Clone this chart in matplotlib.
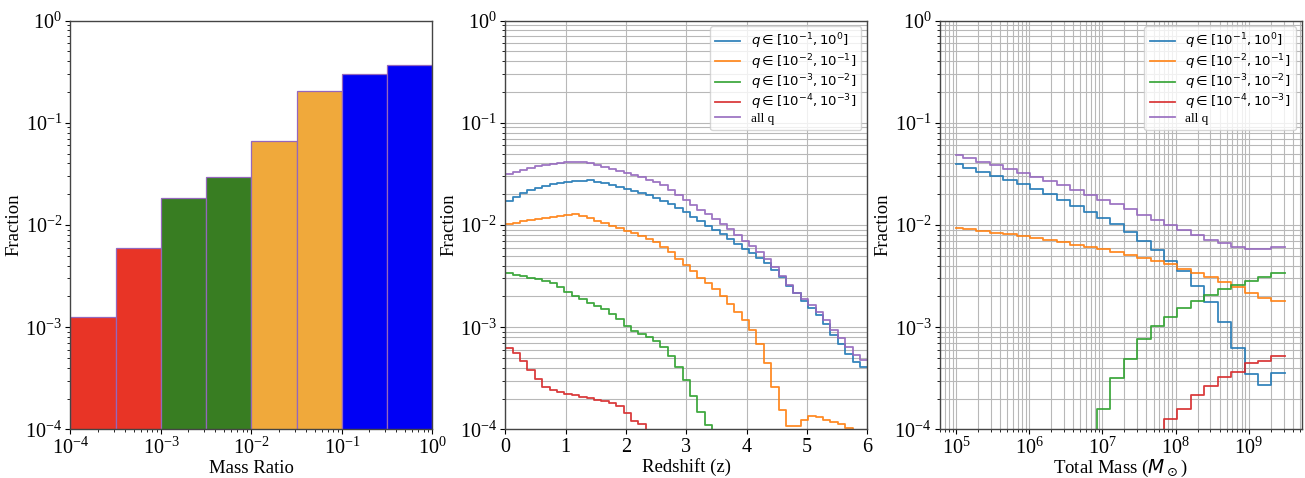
import numpy as np
import matplotlib
matplotlib.use("Agg")
import matplotlib.pyplot as plt

# ---- mass ratio histogram (half-decade bins) ----
q_edges = [1e-4, 10**-3.5, 1e-3, 10**-2.5, 1e-2, 10**-1.5, 1e-1, 10**-0.5, 1e0]
q_frac = [0.00125, 0.0059, 0.0184, 0.0292, 0.0663, 0.206, 0.302, 0.370]
q_colors = ["#e83426", "#e83426", "#387d22", "#387d22",
            "#f0a93b", "#f0a93b", "#0000f5", "#0000f5"]

# ---- redshift distribution, 49 bins over 0 < z < 6 ----
z_edges = np.linspace(0, 6, 50)
z_q1 = [0.0172, 0.0187, 0.0204, 0.0220, 0.0232, 0.0241, 0.0250, 0.0258, 0.0264, 0.0268,
        0.0271, 0.0273, 0.0265, 0.0256, 0.0246, 0.0234, 0.0224, 0.0216, 0.0207, 0.0197,
        0.0185, 0.0172, 0.0162, 0.0148, 0.0133, 0.0121, 0.0109, 0.00985, 0.00893, 0.00811,
        0.00724, 0.00647, 0.00582, 0.00528, 0.00479, 0.00422, 0.00363, 0.00308, 0.00255, 0.00215,
        0.00182, 0.00155, 0.00132, 0.00107, 0.00084, 0.00068, 0.000547, 0.000454, 0.000405]
z_q2 = [0.01015, 0.01054, 0.01086, 0.0112, 0.01145, 0.0117, 0.01198, 0.01225, 0.01253, 0.0127,
        0.01225, 0.01162, 0.01102, 0.01038, 0.00978, 0.00928, 0.0088, 0.00835, 0.0078, 0.00735,
        0.00682, 0.00614, 0.00544, 0.00465, 0.00406, 0.00358, 0.00305, 0.00269, 0.00237, 0.00204,
        0.00169, 0.00142, 0.00118, 0.00094, 0.000686, 0.00045, 0.000262, 0.000155, 0.000108, 0.000108,
        0.000124, 0.000134, 0.000132, 0.000124, 0.000118, 0.000112, 0.000103, 0.0, 0.0]
z_q3 = [0.00342, 0.00324, 0.00315, 0.00305, 0.00294, 0.00283, 0.00269, 0.00249, 0.00223, 0.00204,
        0.00188, 0.00174, 0.00163, 0.0015, 0.00135, 0.0012, 0.00103, 0.00092, 0.00086, 0.000796,
        0.000728, 0.000637, 0.000523, 0.000412, 0.000302, 0.000211, 0.000149, 0.00011, 0.0, 0.0,
        0.0, 0.0, 0.0, 0.0, 0.0, 0.0, 0.0, 0.0, 0.0, 0.0,
        0.0, 0.0, 0.0, 0.0, 0.0, 0.0, 0.0, 0.0, 0.0]
z_q4 = [0.000622, 0.000556, 0.000468, 0.000382, 0.00031, 0.000262, 0.000243, 0.000231, 0.000222, 0.000216,
        0.000209, 0.000202, 0.000196, 0.00019, 0.000183, 0.00017, 0.000146, 0.000122, 0.000113, 0.0,
        0.0, 0.0, 0.0, 0.0, 0.0, 0.0, 0.0, 0.0, 0.0, 0.0,
        0.0, 0.0, 0.0, 0.0, 0.0, 0.0, 0.0, 0.0, 0.0, 0.0,
        0.0, 0.0, 0.0, 0.0, 0.0, 0.0, 0.0, 0.0, 0.0]
z_all = [0.0318, 0.0332, 0.0348, 0.0365, 0.0380, 0.0390, 0.0398, 0.0404, 0.0410, 0.0413,
         0.0410, 0.0401, 0.0386, 0.0372, 0.0353, 0.0335, 0.0320, 0.0306, 0.0292, 0.0278,
         0.0261, 0.0244, 0.0222, 0.0197, 0.0176, 0.0157, 0.0140, 0.0127, 0.0115, 0.0102,
         0.0091, 0.0080, 0.0070, 0.0062, 0.0055, 0.0046, 0.00385, 0.00317, 0.00259, 0.00218,
         0.00189, 0.00165, 0.00142, 0.00118, 0.00095, 0.00078, 0.00064, 0.00054, 0.00048]
z_ticks = [0, 1, 2, 3, 4, 5, 6]

# ---- total mass distribution (log bins, first one cut at 1e5) ----
m_edges = np.concatenate([[1e5], np.logspace(5.0917, 9.3099, 24), [10**9.5]])
m_q1 = [0.0392, 0.0364, 0.0330, 0.0301, 0.0273, 0.0250, 0.0223, 0.0200, 0.01756, 0.01545,
        0.0135, 0.0117, 0.0103, 0.00848, 0.00698, 0.00565, 0.00445, 0.00352, 0.00255, 0.00178,
        0.00112, 0.000632, 0.000346, 0.00027, 0.00036]
m_q2 = [0.00942, 0.00907, 0.0088, 0.00841, 0.0081, 0.00775, 0.0074, 0.00708, 0.00677, 0.00642,
        0.00614, 0.00582, 0.0055, 0.00513, 0.00472, 0.00445, 0.00412, 0.00374, 0.00342, 0.00313,
        0.00277, 0.00246, 0.00215, 0.00192, 0.00182]
m_q3 = [0.0, 0.0, 0.0, 0.0, 0.0, 0.0, 0.0, 0.0, 0.0, 0.0,
        0.0, 0.00016, 0.000317, 0.000489, 0.000767, 0.001036, 0.00127, 0.00155, 0.00179, 0.00205,
        0.00235, 0.00257, 0.00285, 0.00313, 0.00337]
m_q4 = [0.0, 0.0, 0.0, 0.0, 0.0, 0.0, 0.0, 0.0, 0.0, 0.0,
        0.0, 0.0, 0.0, 0.0, 0.0, 0.0, 0.000126, 0.000159, 0.000218, 0.000268,
        0.000329, 0.000362, 0.00045, 0.000468, 0.000527]
m_all = [0.0487, 0.0452, 0.0416, 0.0386, 0.0353, 0.0325, 0.0297, 0.0269, 0.0244, 0.0220,
         0.0198, 0.01756, 0.0159, 0.0142, 0.01262, 0.0112, 0.00992, 0.00893, 0.00804, 0.00719,
         0.00662, 0.00605, 0.00582, 0.00582, 0.0061]

labels = [r"$q \in [10^{-1}, 10^{0}]$", r"$q \in [10^{-2}, 10^{-1}]$",
          r"$q \in [10^{-3}, 10^{-2}]$", r"$q \in [10^{-4}, 10^{-3}]$", "all q"]
line_colors = ["tab:blue", "tab:orange", "tab:green", "tab:red", "tab:purple"]

plt.rcParams['font.family'] = 'serif'
plt.rcParams['font.serif'] = ['Liberation Serif', 'DejaVu Serif']
plt.rcParams['font.size'] = 13.5
plt.rcParams['xtick.labelsize'] = 14.5
plt.rcParams['ytick.labelsize'] = 14.5
plt.rcParams['xtick.major.pad'] = 2.5
plt.rcParams['ytick.major.pad'] = 2.5
plt.rcParams['mathtext.fontset'] = 'dejavusans'
plt.rcParams['axes.linewidth'] = 1.0
plt.rcParams['axes.edgecolor'] = '#444444'

fig = plt.figure(figsize=(13.05, 4.78), dpi=100)
ax1 = fig.add_axes([0.054, 0.1015, 0.2774, 0.8556])
ax2 = fig.add_axes([0.3872, 0.1015, 0.2774, 0.8556])
ax3 = fig.add_axes([0.7201, 0.1015, 0.2774, 0.8556])

# mass ratio bars
for i in range(len(q_frac)):
    ax1.bar(q_edges[i], q_frac[i], width=q_edges[i + 1] - q_edges[i], align='edge',
            color=q_colors[i], edgecolor='#9467bd', linewidth=0.9)
ax1.set_xscale('log')
ax1.set_yscale('log')
ax1.set_xlim(1e-4, 1)
ax1.set_ylim(1e-4, 1)
ax1.set_xlabel("Mass Ratio", labelpad=1)
ax1.set_ylabel("Fraction", labelpad=2)


def draw_steps(ax, edges, series):
    for vals, c, lab in zip(series, line_colors, labels):
        y = np.append(vals, vals[-1])
        ax.step(edges, y, where='post', color=c, lw=1.3, alpha=0.9, label=lab)
    ax.set_yscale('log', nonpositive='clip')
    ax.set_ylim(1e-4, 1)
    ax.grid(which='both', color='#b8b8b8', lw=0.8)
    ax.set_axisbelow(True)
    ax.set_ylabel("Fraction", labelpad=2)
    ax.legend(loc='upper right', fontsize=9.5, handlelength=1.9,
              labelspacing=0.05, borderaxespad=0.45)


draw_steps(ax2, z_edges, [z_q1, z_q2, z_q3, z_q4, z_all])
ax2.set_xlim(0, 6)
ax2.set_xticks(z_ticks)
ax2.set_xlabel("Redshift (z)", labelpad=1)

draw_steps(ax3, m_edges, [m_q1, m_q2, m_q3, m_q4, m_all])
ax3.set_xscale('log')
ax3.set_xlim(10**4.775, 10**9.725)
ax3.set_xlabel(r"Total Mass ($M_\odot$)", labelpad=-1)

plt.savefig("out.png", dpi=100)
